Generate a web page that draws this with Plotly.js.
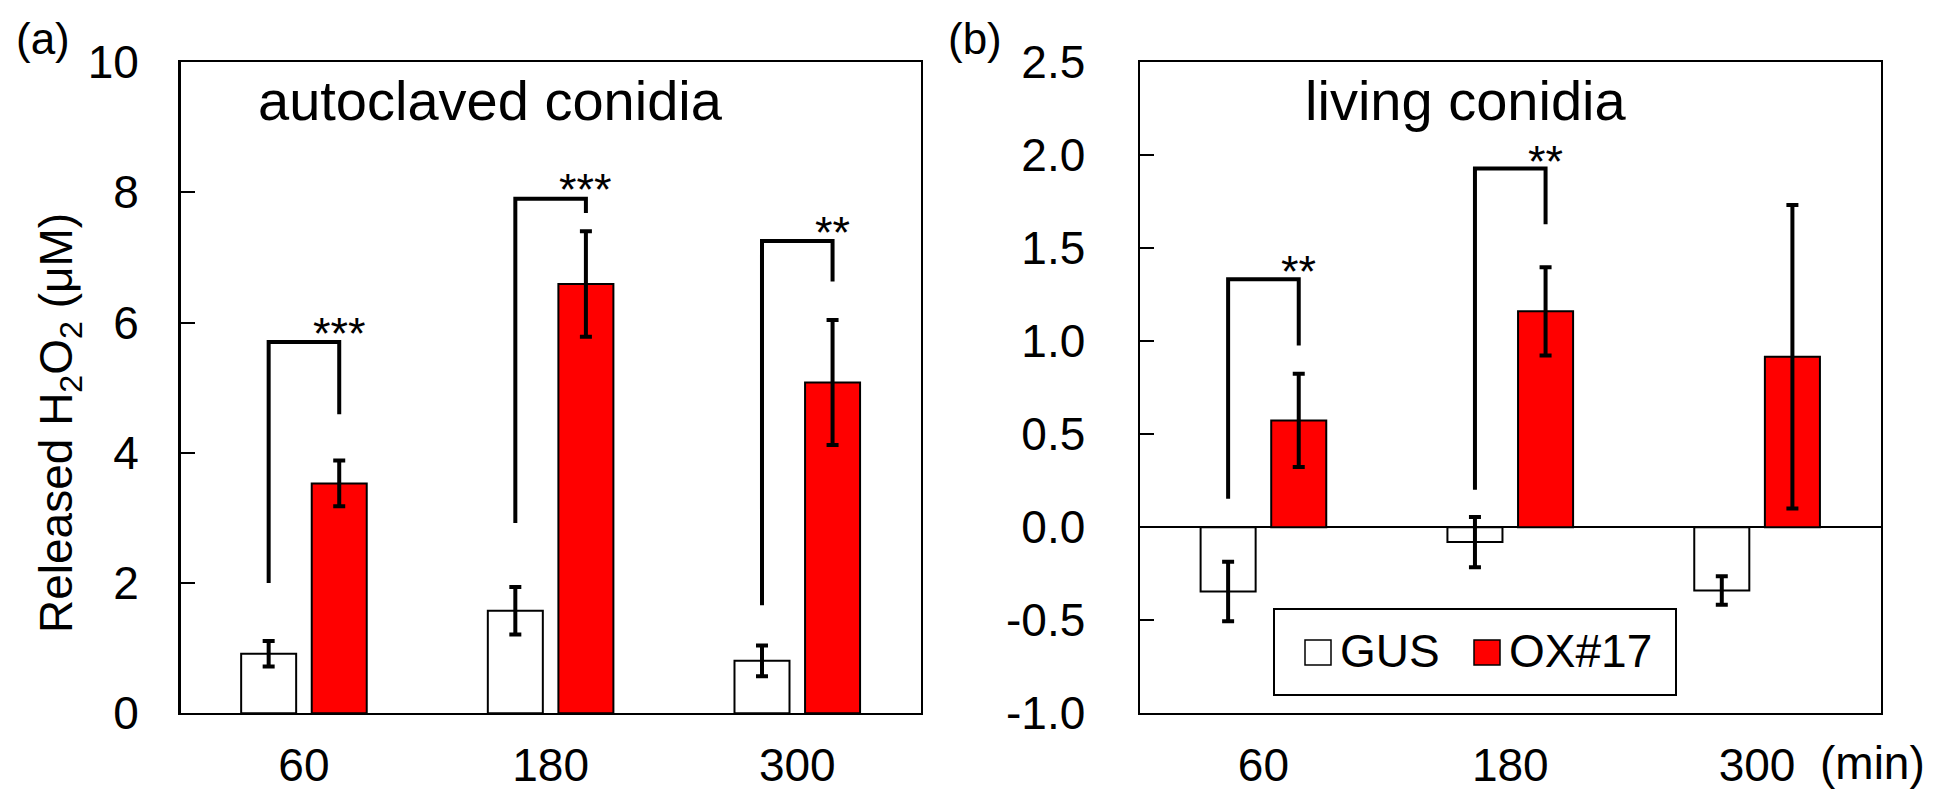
<!DOCTYPE html>
<html>
<head>
<meta charset="utf-8">
<script src="https://cdn.plot.ly/plotly-3.0.1.min.js"></script>
<style>html,body{margin:0;padding:0;background:#fff;}#chart{width:1946px;height:792px;}</style>
</head>
<body>
<div id="chart"></div>
<script>
// ---- data ----
const categories = ['60', '180', '300'];
const seriesNames = ['GUS', 'OX#17'];

// (a) autoclaved conidia
const gusAutoclaved = [0.915, 1.575, 0.805];
const gusAutoclavedErr = [0.195, 0.365, 0.235];
const oxAutoclaved = [3.53, 6.59, 5.08];
const oxAutoclavedErr = [0.35, 0.81, 0.96];

// (b) living conidia
const gusLiving = [-0.345, -0.08, -0.34];
const gusLivingErr = [0.16, 0.135, 0.077];
const oxLiving = [0.574, 1.16, 0.916];
const oxLivingErr = [0.251, 0.2375, 0.815];

// axis ticks
const yTicksA = [0, 2, 4, 6, 8, 10];
const yTicksB = [-1.0, -0.5, 0.0, 0.5, 1.0, 1.5, 2.0, 2.5];
const yTickTextB = ['-1.0', '-0.5', '0.0', '0.5', '1.0', '1.5', '2.0', '2.5'];

// significance brackets
const bracketA = {idx: [0, 1, 2], leftLeg: [2.0, 2.92, 1.66], top: [5.70, 7.90, 7.25], rightLeg: [4.59, 7.68, 6.63], stars: ['***', '***', '**'], starY: [5.98, 8.19, 7.53]};
const bracketB = {idx: [0, 1], leftLeg: [0.153, 0.201], top: [1.333, 1.928], rightLeg: [0.977, 1.628], stars: ['**', '**'], starY: [1.426, 2.017]};

const panelTitles = ['autoclaved conidia', 'living conidia'];
const panelLabels = ['(a)', '(b)'];
const yTitle = 'Released H<sub>2</sub>O<sub>2</sub> (μM)';

// ---- style ----
const FONT = 'Liberation Sans, Arial, sans-serif';
const RED = '#ff0000';
const barW = 0.223;
const gusOffset = -0.2545;
const oxOffset = 0.0316;
const gusCenter = gusOffset + barW / 2;
const oxCenter = oxOffset + barW / 2;

function barTrace(y, err, name, color, offset, xa, ya) {
  return {
    type: 'bar', x: categories, y: y, name: name,
    xaxis: xa, yaxis: ya,
    width: barW, offset: offset,
    marker: {color: color, line: {color: '#000', width: 2}},
    error_y: {type: 'data', array: err, visible: true, color: '#000', thickness: 4, width: 6},
    showlegend: false, hoverinfo: 'skip'
  };
}

const data = [
  barTrace(gusAutoclaved, gusAutoclavedErr, seriesNames[0], '#ffffff', gusOffset, 'x', 'y'),
  barTrace(oxAutoclaved, oxAutoclavedErr, seriesNames[1], RED, oxOffset, 'x', 'y'),
  barTrace(gusLiving, gusLivingErr, seriesNames[0], '#ffffff', gusOffset, 'x2', 'y2'),
  barTrace(oxLiving, oxLivingErr, seriesNames[1], RED, oxOffset, 'x2', 'y2')
];

const shapes = [];
const annotations = [];

function addBrackets(b, xref, yref) {
  for (let i = 0; i < b.idx.length; i++) {
    const xl = b.idx[i] + gusCenter;
    const xr = b.idx[i] + oxCenter;
    shapes.push({
      type: 'path', xref: xref, yref: yref,
      path: `M ${xl},${b.leftLeg[i]} L ${xl},${b.top[i]} L ${xr},${b.top[i]} L ${xr},${b.rightLeg[i]}`,
      line: {color: '#000', width: 4}
    });
    annotations.push({
      xref: xref, yref: yref, x: xr, y: b.starY[i], text: b.stars[i],
      showarrow: false, xanchor: 'center', yanchor: 'middle', yshift: -10,
      font: {family: FONT, size: 45, color: '#000'}
    });
  }
}
addBrackets(bracketA, 'x', 'y');
addBrackets(bracketB, 'x2', 'y2');

// panel titles and labels
annotations.push({xref: 'paper', yref: 'paper', x: 490.5 / 1946, y: 1 - 101 / 792, text: panelTitles[0], showarrow: false, xanchor: 'center', yanchor: 'middle', font: {family: FONT, size: 56, color: '#000'}});
annotations.push({xref: 'paper', yref: 'paper', x: 1465.5 / 1946, y: 1 - 101 / 792, text: panelTitles[1], showarrow: false, xanchor: 'center', yanchor: 'middle', font: {family: FONT, size: 56, color: '#000'}});
annotations.push({xref: 'paper', yref: 'paper', x: 43 / 1946, y: 1 - 38 / 792, text: panelLabels[0], showarrow: false, xanchor: 'center', yanchor: 'middle', font: {family: FONT, size: 44, color: '#000'}});
annotations.push({xref: 'paper', yref: 'paper', x: 975 / 1946, y: 1 - 38 / 792, text: panelLabels[1], showarrow: false, xanchor: 'center', yanchor: 'middle', font: {family: FONT, size: 44, color: '#000'}});
annotations.push({xref: 'paper', yref: 'paper', x: 59 / 1946, y: 1 - 423 / 792, text: yTitle, textangle: -90, showarrow: false, xanchor: 'center', yanchor: 'middle', font: {family: FONT, size: 46, color: '#000'}});
annotations.push({xref: 'paper', yref: 'paper', x: 1872.5 / 1946, y: 1 - 763 / 792, text: '(min)', showarrow: false, xanchor: 'center', yanchor: 'middle', font: {family: FONT, size: 46, color: '#000'}});

// manual legend (panel b)
shapes.push({type: 'rect', xref: 'paper', yref: 'paper', x0: 1274 / 1946, x1: 1676 / 1946, y0: 1 - 695 / 792, y1: 1 - 609 / 792, line: {color: '#000', width: 2}, fillcolor: '#fff', layer: 'above'});
const legendColors = ['#ffffff', RED];
const swatchX = [1305, 1474];
const labelX = [1338, 1507];
for (let i = 0; i < 2; i++) {
  shapes.push({type: 'rect', xref: 'paper', yref: 'paper', x0: swatchX[i] / 1946, x1: (swatchX[i] + 26) / 1946, y0: 1 - 665 / 792, y1: 1 - 640 / 792, line: {color: '#000', width: 1.5}, fillcolor: legendColors[i], layer: 'above'});
  annotations.push({xref: 'paper', yref: 'paper', x: labelX[i] / 1946, y: 1 - 651 / 792, text: seriesNames[i], showarrow: false, xanchor: 'left', yanchor: 'middle', font: {family: FONT, size: 46, color: '#000'}});
}

const xCommon = {
  type: 'category', range: [-0.5, 2.5], showline: true, mirror: true, linecolor: '#000', linewidth: 2,
  ticks: '', showgrid: false, zeroline: false, fixedrange: true,
  tickfont: {family: FONT, size: 46, color: '#000'}, ticklabelstandoff: 10
};
const yCommon = {
  showline: true, mirror: true, linecolor: '#000', linewidth: 2.5, ticks: 'inside', ticklen: 14, tickwidth: 2,
  tickcolor: '#000', showgrid: false, fixedrange: true,
  tickfont: {family: FONT, size: 46, color: '#000'}
};

const layout = {
  width: 1946, height: 792,
  margin: {l: 0, r: 0, t: 0, b: 0},
  paper_bgcolor: '#fff', plot_bgcolor: '#fff',
  barmode: 'group', showlegend: false,
  font: {family: FONT, color: '#000'},
  xaxis: Object.assign({}, xCommon, {domain: [180.6 / 1946, 920.6 / 1946], anchor: 'y'}),
  xaxis2: Object.assign({}, xCommon, {domain: [1140 / 1946, 1880.5 / 1946], anchor: 'y2'}),
  yaxis: Object.assign({}, yCommon, {domain: [1 - 713.3 / 792, 1 - 62 / 792], anchor: 'x', range: [0, 10], tickmode: 'array', tickvals: yTicksA, zeroline: false, ticklabelstandoff: 30}),
  yaxis2: Object.assign({}, yCommon, {domain: [1 - 713.3 / 792, 1 - 62 / 792], anchor: 'x2', range: [-1, 2.5], tickmode: 'array', tickvals: yTicksB, ticktext: yTickTextB, zeroline: true, zerolinecolor: '#000', zerolinewidth: 2, ticklabelstandoff: 43}),
  shapes: shapes,
  annotations: annotations
};

Plotly.newPlot('chart', data, layout, {staticPlot: true, displayModeBar: false});
</script>
</body>
</html>
